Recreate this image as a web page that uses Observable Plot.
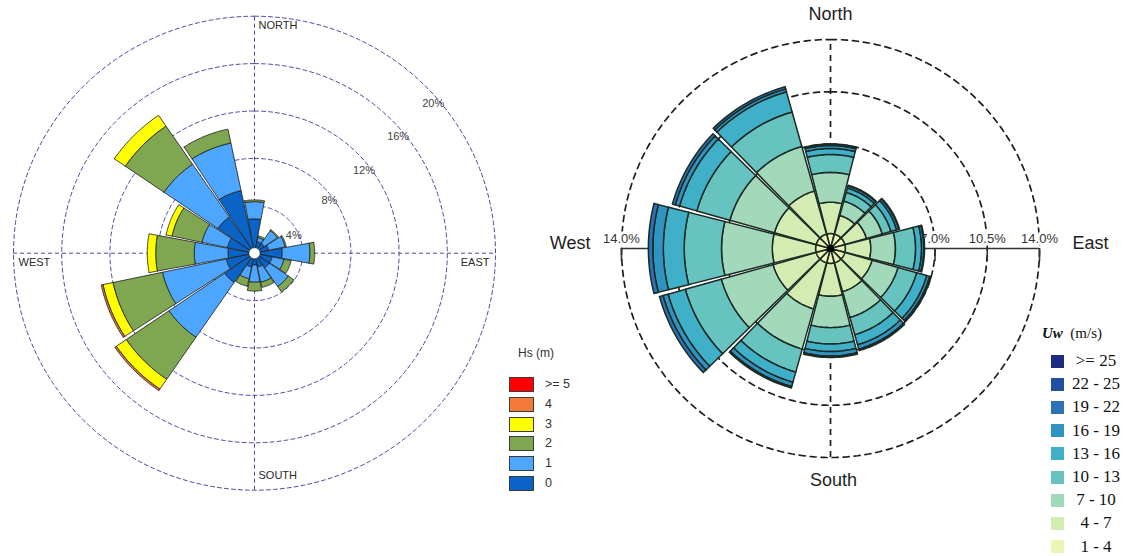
<!DOCTYPE html>
<html>
<head>
<meta charset="utf-8">
<script src="https://cdn.jsdelivr.net/npm/d3@7"></script>
<script src="https://cdn.jsdelivr.net/npm/@observablehq/plot@0.6"></script>
<style>
  body { margin: 0; background: #fff; }
  #wrap { position: relative; width: 1124px; height: 556px; overflow: hidden; background: #fff;
          font-family: "Liberation Sans", Arial, sans-serif; }
  #wrap > svg, #wrap > figure { position: absolute; top: 0; margin: 0; }
  .lg { position: absolute; white-space: nowrap; }
</style>
</head>
<body>
<div id="wrap"></div>
<script>
// ================= DATA =================
// Left rose: significant wave height Hs (m), frequency (%) per direction (16 sectors)
const hsDirections = ["N","NNE","NE","ENE","E","ESE","SE","SSE","S","SSW","SW","WSW","W","WNW","NW","NNW"];
const hsClasses = ["0", "1", "2", "3", "4", ">= 5"];
const hs0  = [2.9, 1.0, 1.0, 1.2, 2.3, 1.5, 1.5, 1.2, 1.0, 1.2, 3.0, 2.4, 2.2, 2.3, 3.7, 5.4];
const hs1  = [1.45, 0.35, 1.3, 1.4, 2.3, 1.0, 1.9, 1.3, 1.45, 1.0, 5.6, 5.4, 2.8, 2.15, 5.4, 4.1];
const hs2  = [0.15, 0.15, 0.1, 0.1, 0.4, 0.6, 0.55, 0.45, 0.75, 0.65, 4.3, 4.2, 3.2, 2.55, 3.9, 1.2];
const hs3  = [0, 0, 0, 0, 0, 0, 0, 0, 0, 0, 1.0, 0.85, 0.7, 0.5, 1.1, 0];
const hs4  = [0, 0, 0, 0, 0, 0, 0, 0, 0, 0, 0.15, 0.15, 0, 0, 0, 0];
const hs5  = [0, 0, 0, 0, 0, 0, 0, 0, 0, 0, 0, 0, 0, 0, 0, 0];
const hsColors = ["#0a64c8", "#4da6ff", "#7fa650", "#ffff00", "#f47a3a", "#ff0000"];
const hsRings = [4, 8, 12, 16, 20];
const hsRingLabels = ["4%", "8%", "12%", "16%", "20%"];
const hsCompass = ["NORTH", "EAST", "SOUTH", "WEST"];

// Right rose: wind speed Uw (m/s), frequency (%) per direction (12 sectors)
const uwDirections = [0, 30, 60, 90, 120, 150, 180, 210, 240, 270, 300, 330];
const uwClasses = ["1 - 4", "4 - 7", "7 - 10", "10 - 13", "13 - 16", "16 - 19", "19 - 22", "22 - 25", ">= 25"];
const uw1_4   = [1.0, 1.0, 1.0, 1.0, 1.0, 1.0, 1.0, 1.0, 1.0, 1.0, 1.0, 1.0];
const uw4_7   = [2.1, 1.3, 1.5, 1.7, 1.9, 2.0, 2.2, 3.2, 3.0, 2.9, 2.9, 3.0];
const uw7_10  = [2.0, 1.0, 1.1, 1.65, 1.8, 1.8, 2.1, 2.8, 3.6, 3.4, 3.1, 3.1];
const uw10_13 = [1.2, 0.6, 0.6, 1.35, 1.3, 1.2, 1.1, 1.6, 2.5, 2.5, 2.3, 2.4];
const uw13_16 = [0.4, 0.3, 0.4, 0.4, 0.7, 0.7, 0.5, 0.7, 1.2, 1.4, 1.2, 1.4];
const uw16_19 = [0.2, 0.15, 0.15, 0.15, 0.2, 0.3, 0.3, 0.3, 0.35, 0.7, 0.3, 0.2];
const uw19_22 = [0.1, 0.05, 0.05, 0.05, 0.1, 0.1, 0.1, 0.1, 0.25, 0.3, 0.2, 0.15];
const uw22_25 = [0, 0, 0, 0, 0, 0, 0, 0, 0, 0, 0, 0];
const uw25    = [0, 0, 0, 0, 0, 0, 0, 0, 0, 0, 0, 0];
const uwColors = ["#ecf5b3", "#d2ecb2", "#a2d9ba", "#66c3c0", "#40afc8", "#3094c2", "#2c72b4", "#2250a0", "#1e2c84"];
const uwRings = [3.5, 7, 10.5, 14];
const uwTicks = [-14, -10.5, -7, 7, 10.5, 14];
const uwTickLabels = ["14.0%", "10.5%", "7.0%", "7.0%", "10.5%", "14.0%"];
const uwCompass = ["North", "East", "South", "West"];

// ================= LAYOUT (not data) =================
const L = {kx: 12.05, ky: 11.85, cx: 254, cy: 252.7, w: 505, h: 500, left: 0, halfWidth: 10.6};
const R = {kx: 14.93, ky: 14.93, cx: 290, cy: 248, w: 584, h: 500, left: 540, halfWidth: 14.3};
const hsLabelAngles = [69, 57, 55, 52.4, 51.2];
const rad = d => d * Math.PI / 180;

function wedges(angles, series, colors, halfWidth) {
  const pts = [];
  angles.forEach((a, i) => {
    let r0 = 0;
    series.forEach((s, j) => {
      const v = s[i];
      if (!(v > 0)) return;
      const r1 = r0 + v, id = i + "-" + j, n = 20, ring = [];
      for (let k = 0; k <= n; k++) ring.push([r1, a - halfWidth + 2 * halfWidth * k / n]);
      for (let k = n; k >= 0; k--) ring.push([r0, a - halfWidth + 2 * halfWidth * k / n]);
      ring.push(ring[0]);
      for (const [r, t] of ring) pts.push({id, x: r * Math.sin(rad(t)), y: r * Math.cos(rad(t)), color: colors[j]});
      r0 = r1;
    });
  });
  return pts;
}
function circles(radii) {
  const out = [];
  for (const r of radii) for (let k = 0; k <= 240; k++) {
    const t = k * 1.5;
    out.push({r, x: r * Math.sin(rad(t)), y: r * Math.cos(rad(t))});
  }
  return out;
}
function frame(P) {
  return {
    width: P.w, height: P.h, margin: 0,
    x: {domain: [-P.cx / P.kx, (P.w - P.cx) / P.kx], axis: null},
    y: {domain: [-(P.h - P.cy) / P.ky, P.cy / P.ky], axis: null},
    color: {type: "identity"},
    style: {background: "transparent", overflow: "visible"}
  };
}
function compassMarks(items, font) {
  return items.map(it => Plot.text([it], {x: "x", y: "y", text: "t", textAnchor: it.a, dx: it.dx, dy: it.dy, ...font}));
}

// ================= LEFT ROSE =================
const hsOuter = hsRings[hsRings.length - 1];
const hsCompassPos = [
  {t: hsCompass[0], x: 0, y: hsOuter, a: "start", dx: 4, dy: 9},
  {t: hsCompass[1], x: hsOuter, y: 0, a: "end", dx: -6, dy: 9},
  {t: hsCompass[2], x: 0, y: -hsOuter, a: "start", dx: 4, dy: -15},
  {t: hsCompass[3], x: -hsOuter, y: 0, a: "start", dx: 5, dy: 9}
];
const hsLabelData = hsRings.map((v, i) => ({v, t: hsRingLabels[i], a: hsLabelAngles[i]}));
const leftFont = {fontSize: 11, fill: "#2a2a2a", fontFamily: "Liberation Sans, Arial, sans-serif"};
const ringStyle = {stroke: "#4c4ca8", strokeWidth: 1, strokeDasharray: "4,3"};
const leftPlot = Plot.plot({
  ...frame(L),
  marks: [
    Plot.line(circles(hsRings), {x: "x", y: "y", z: "r", ...ringStyle}),
    Plot.ruleX([0], {x: () => 0, y1: () => -hsOuter, y2: () => hsOuter, ...ringStyle}),
    Plot.ruleY([0], {y: () => 0, x1: () => -hsOuter, x2: () => hsOuter, ...ringStyle}),
    Plot.text(hsLabelData, {x: d => (d.v + 0.2) * Math.sin(rad(d.a)), y: d => (d.v + 0.2) * Math.cos(rad(d.a)),
      text: "t", textAnchor: "end", fontSize: 11, fill: "#444", fontFamily: "Liberation Sans, Arial, sans-serif"}),
    Plot.line(wedges(hsDirections.map((d, i) => i * 22.5), [hs0, hs1, hs2, hs3, hs4, hs5], hsColors, L.halfWidth),
      {x: "x", y: "y", z: "id", fill: "color", stroke: "#1c1c1c", strokeWidth: 0.8, strokeLinejoin: "miter", strokeMiterlimit: 4, curve: "linear"}),
    Plot.dot([0], {x: () => 0, y: () => 0, r: 5.5, fill: "white", stroke: "#333", strokeWidth: 0.5}),
    ...compassMarks(hsCompassPos, leftFont)
  ]
});

// ================= RIGHT ROSE =================
const uwOuter = uwRings[uwRings.length - 1];
const uwCompassPos = [
  {t: uwCompass[0], x: 0, y: uwOuter, a: "middle", dx: 0, dy: -25},
  {t: uwCompass[1], x: uwOuter, y: 0, a: "start", dx: 33, dy: -5},
  {t: uwCompass[2], x: 0, y: -uwOuter, a: "middle", dx: 3, dy: 23},
  {t: uwCompass[3], x: -uwOuter, y: 0, a: "end", dx: -31, dy: -5}
];
const rightFont = {fontSize: 18, fill: "#1e1e1e", fontFamily: "Liberation Sans, Arial, sans-serif"};
const tickLabelData = uwTicks.map((v, i) => ({v, t: uwTickLabels[i]}));
const tickFont = {fontSize: 13, fontFamily: "Liberation Sans, Arial, sans-serif"};
const rightPlot = Plot.plot({
  ...frame(R),
  marks: [
    Plot.line(circles(uwRings), {x: "x", y: "y", z: "r", stroke: "#1e1e1e", strokeWidth: 1.7, strokeDasharray: "6,5"}),
    Plot.ruleX([0], {x: () => 0, y1: () => -uwOuter, y2: () => uwOuter, stroke: "#1e1e1e", strokeWidth: 1.7, strokeDasharray: "6,5"}),
    Plot.text(tickLabelData, {x: "v", y: () => 0, text: "t", dy: -10, stroke: "white", strokeWidth: 6, fill: "white", ...tickFont}),
    Plot.ruleY([0], {y: () => 0, x1: () => -uwOuter, x2: () => uwOuter, stroke: "#333", strokeWidth: 1.6}),
    Plot.ruleX(uwTicks, {x: d => d, y1: () => 0, y2: () => -13 / R.ky, stroke: "#333", strokeWidth: 1.6}),
    Plot.text(tickLabelData, {x: "v", y: () => 0, text: "t", dy: -10, fill: "#333", ...tickFont}),
    Plot.line(wedges(uwDirections, [uw1_4, uw4_7, uw7_10, uw10_13, uw13_16, uw16_19, uw19_22, uw22_25, uw25], uwColors, R.halfWidth),
      {x: "x", y: "y", z: "id", fill: "color", stroke: "#1b2a24", strokeWidth: 1.5, strokeLinejoin: "miter", strokeMiterlimit: 4, curve: "linear"}),
    Plot.dot([0], {x: () => 0, y: () => 0, r: 3.5, fill: "#000"}),
    ...compassMarks(uwCompassPos, rightFont)
  ]
});

// ================= ASSEMBLE =================
const wrap = document.getElementById("wrap");
leftPlot.style.left = L.left + "px";
rightPlot.style.left = R.left + "px";
wrap.appendChild(leftPlot);
wrap.appendChild(rightPlot);

function div(cls, css, html) {
  const d = document.createElement("div");
  d.className = cls; d.style.cssText = css; d.innerHTML = html; wrap.appendChild(d); return d;
}
// Left legend (Hs)
div("lg", "left:518px;top:346px;font-size:12px;color:#333;font-family:'Liberation Sans',Arial,sans-serif;", "Hs (m)");
hsClasses.slice().reverse().forEach((c, i) => {
  const col = hsColors[hsClasses.length - 1 - i];
  const top = 377 + i * 19.8;
  div("lg", `left:509px;top:${top}px;width:25px;height:15px;box-sizing:border-box;background:${col};border:1.5px solid #3a3a3a;`, "");
  div("lg", `left:545px;top:${top}px;line-height:15px;font-size:12.5px;color:#333;font-family:'Liberation Sans',Arial,sans-serif;`,
      c.replace(">", "&gt;"));
});
// Right legend (Uw)
div("lg", "left:1042px;top:325px;font-size:15px;color:#111;font-family:'Liberation Serif','Times New Roman',serif;",
    "<b><i>Uw</i></b>&nbsp; (m/s)");
uwClasses.slice().reverse().forEach((c, i) => {
  const col = uwColors[uwClasses.length - 1 - i];
  const cy = 361 + i * 23.2;
  div("lg", `left:1051px;top:${cy - 6.5}px;width:13px;height:13px;background:${col};`, "");
  div("lg", `left:1068px;top:${cy - 10}px;width:56px;text-align:center;line-height:20px;font-size:17px;color:#111;font-family:'Liberation Serif','Times New Roman',serif;`,
      c.replace(">", "&gt;"));
});
</script>
</body>
</html>
